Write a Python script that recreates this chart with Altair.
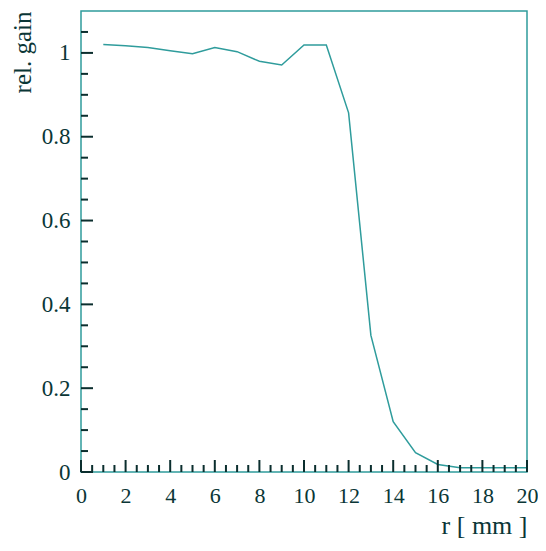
import altair as alt
import pandas as pd

# data
r_mm = [1, 2, 3, 4, 5, 6, 7, 8, 9, 10, 11, 12, 13, 14, 15, 16, 17, 18, 19, 20]
rel_gain = [1.020, 1.017, 1.013, 1.005, 0.998, 1.013, 1.003, 0.980, 0.971, 1.019,
            1.019, 0.857, 0.326, 0.120, 0.046, 0.018, 0.010, 0.010, 0.010, 0.010]

x_label_values = [0, 2, 4, 6, 8, 10, 12, 14, 16, 18, 20]
y_label_values = [0, 0.2, 0.4, 0.6, 0.8, 1.0]
x_minor_ticks = [0.5, 1, 1.5, 2.5, 3, 3.5, 4.5, 5, 5.5, 6.5, 7, 7.5, 8.5, 9, 9.5,
                 10.5, 11, 11.5, 12.5, 13, 13.5, 14.5, 15, 15.5, 16.5, 17, 17.5,
                 18.5, 19, 19.5]
y_minor_ticks = [0.05, 0.1, 0.15, 0.25, 0.3, 0.35, 0.45, 0.5, 0.55, 0.65, 0.7,
                 0.75, 0.85, 0.9, 0.95, 1.05]

W, H = 446, 461
FONT = "Liberation Serif"
TEXT = "#0a3636"
TICK = "#0b2e2e"
TEAL = "#2f9c9c"

xs = alt.Scale(domain=[0, 20], nice=False, zero=False)
ys = alt.Scale(domain=[0, 1.1], nice=False, zero=False)

x_axis = alt.Axis(
    title="r [ mm ]", values=x_label_values, ticks=False, domain=False, grid=False,
    labelFont=FONT, labelFontSize=22, labelColor=TEXT, labelPadding=13,
    labelFlush=False,
    titleFont=FONT, titleFontSize=26, titleFontWeight="normal", titleColor=TEXT,
    titleAnchor="end", titlePadding=6)
y_axis = alt.Axis(
    title="rel. gain", values=y_label_values, format="~g", ticks=False, domain=False,
    grid=False, labelFont=FONT, labelFontSize=23, labelColor=TEXT, labelPadding=11,
    labelFlush=False,
    titleFont=FONT, titleFontSize=25, titleFontWeight="normal", titleColor=TEXT,
    titleAnchor="end", titlePadding=6)

df = pd.DataFrame({"r": r_mm, "g": rel_gain})

line = alt.Chart(df).mark_line(color=TEAL, strokeWidth=1.5).encode(
    x=alt.X("r:Q", scale=xs, axis=x_axis),
    y=alt.Y("g:Q", scale=ys, axis=y_axis),
)

def xticks(vals, length, width):
    return alt.Chart(pd.DataFrame({"r": vals})).mark_rule(color=TICK, strokeWidth=width).encode(
        x=alt.X("r:Q", scale=xs, axis=x_axis),
        y=alt.value(H), y2=alt.value(H - length))

def yticks(vals, length, width):
    return alt.Chart(pd.DataFrame({"g": vals})).mark_rule(color=TICK, strokeWidth=width).encode(
        y=alt.Y("g:Q", scale=ys, axis=y_axis),
        x=alt.value(0), x2=alt.value(length))

chart = alt.layer(
    line,
    xticks(x_minor_ticks, 7, 2),
    xticks(x_label_values, 12, 2),
    yticks(y_minor_ticks, 7, 2),
    yticks(y_label_values, 12, 2),
).properties(
    width=W, height=H,
    background="white",
    autosize=alt.AutoSizeParams(type="none"),
    padding={"left": 73, "top": 3, "right": 11, "bottom": 71},
).configure_view(stroke=TEAL, strokeWidth=1.5)

chart.save("out.html", embed_options={"renderer": "svg", "actions": False})
